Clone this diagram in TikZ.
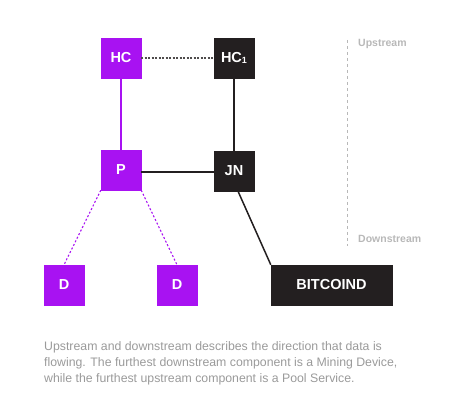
\documentclass[tikz,border=0pt]{standalone}
\usepackage{fontspec}
\setmainfont{Liberation Sans}
\definecolor{pur}{HTML}{A812F2}
\definecolor{blk}{HTML}{231F20}
\definecolor{capg}{HTML}{9A9A9A}
\definecolor{lblg}{HTML}{B8B8B8}
\begin{document}
\begin{tikzpicture}[x=1pt,y=-1pt,
  pbox/.style={fill=pur,draw=pur,minimum width=40pt,minimum height=40pt,inner sep=0pt,text=white,font=\bfseries\fontsize{14.5}{16}\selectfont},
  bbox/.style={fill=blk,draw=blk,minimum width=40pt,minimum height=40pt,inner sep=0pt,text=white,font=\bfseries\fontsize{14.5}{16}\selectfont},
  lbl/.style={text=lblg,font=\bfseries\fontsize{10.5}{12}\selectfont,anchor=west,inner sep=0pt},
  pline/.style={pur,line width=1.3pt},
  bline/.style={blk,line width=1.5pt},
  pdot/.style={pur,line width=1.1pt,dash pattern=on 2pt off 2pt}]
\useasboundingbox (0,0) rectangle (450,403);
\node[pbox] (hc) at (121,58) {HC};
\node[bbox] (hc1) at (234,58) {HC\raisebox{-0.5pt}{\fontsize{9}{10}\selectfont 1}};
\node[pbox] (p) at (121,170) {P};
\node[bbox] (jn) at (234,171) {JN};
\node[pbox] (d1) at (64,285) {D};
\node[pbox] (d2) at (177,285) {D};
\node[bbox,minimum width=121pt] (btc) at (331.5,285) {BITCOIND};
\draw[blk!80,line width=1.1pt,dash pattern=on 2pt off 1.5pt] (hc.east) -- (hc1.west);
\draw[pline] (hc.south) -- (p.north);
\draw[bline] (hc1.south) -- (jn.north);
\draw[bline] (p.east |- 0,172) -- (jn.west |- 0,172);
\draw[pdot] (p.south west) -- (d1.north);
\draw[pdot] (p.south east) -- (d2.north);
\draw[bline] ([xshift=4pt]jn.south) -- (btc.north west);
\coordinate (vt) at (347,40);
\coordinate (vb) at (347,246);
\draw[lblg,line width=0.8pt,dash pattern=on 3pt off 3pt] (vt) -- (vb);
\node[lbl] (up) at (358,44) {Upstream};
\node[lbl] (down) at (358,239) {Downstream};
\node[text=capg,font=\fontsize{12.3}{16}\selectfont,anchor=north west,align=left,inner sep=0pt] (cap) at (44,341)
{Upstream and downstream describes the direction that data is\\flowing. The furthest downstream component is a Mining Device,\\while the furthest upstream component is a Pool Service.};
\end{tikzpicture}
\end{document}
